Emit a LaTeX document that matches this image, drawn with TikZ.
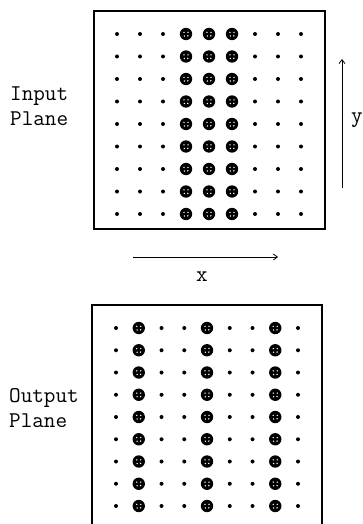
\documentclass[tikz,border=0pt]{standalone}
\usepackage{fontspec}
\usetikzlibrary{arrows.meta}
\begin{document}
\begin{tikzpicture}[x=1pt,y=-1pt,
  planebox/.style={line width=1.2pt},
  lbl/.style={font=\ttfamily\fontsize{22.5}{25.5}\selectfont, inner sep=0pt, align=left},
  axislbl/.style={font=\ttfamily\fontsize{22.5}{25.5}\selectfont, inner sep=0pt},
  axisarrow/.style={line width=0.8pt, -{Straight Barb[length=4pt,width=6pt]}},
  smalldot/.style={fill=black},
  bigdot/.style={fill=black}
]
\useasboundingbox (0,0) rectangle (363,524);
% input plane box
\draw[planebox] (94,11) rectangle (325,229);
% output plane box (open at the bottom)
\draw[planebox] (92,524) -- (92,305) -- (322,305) -- (322,524);

% input dots
\foreach \i in {0,...,8} {
  \foreach \j in {0,...,8} {
    \pgfmathsetmacro{\px}{117+23*\i}
    \pgfmathsetmacro{\py}{34+22.5*\j}
    \ifnum\i>2 \ifnum\i<6
      \fill[bigdot] (\px,\py) circle (6.2);
      \fill[white] (\px-2,\py-1.6) circle (0.8) (\px+2,\py-1.6) circle (0.8)
                   (\px-1.6,\py+2) circle (0.8) (\px+1.8,\py+1.8) circle (0.8);
    \else
      \fill[smalldot] (\px,\py) circle (2);
    \fi
    \else
      \fill[smalldot] (\px,\py) circle (2);
    \fi
  }
}
% output dots
\foreach \i in {0,...,8} {
  \foreach \j in {0,...,8} {
    \pgfmathsetmacro{\px}{116+22.75*\i}
    \pgfmathsetmacro{\py}{328+22.25*\j}
    \pgfmathtruncatemacro{\m}{mod(\i,3)}
    \ifnum\m=1
      \fill[bigdot] (\px,\py) circle (6.2);
      \fill[white] (\px-2,\py-1.6) circle (0.8) (\px+2,\py-1.6) circle (0.8)
                   (\px-1.6,\py+2) circle (0.8) (\px+1.8,\py+1.8) circle (0.8);
    \else
      \fill[smalldot] (\px,\py) circle (2);
    \fi
  }
}

% labels
\node[lbl, anchor=west] (inlabel) at (10,106) {Input\\Plane};
\node[lbl, anchor=west] (outlabel) at (9,408) {Output\\Plane};

% axes
\coordinate (xs) at (133,257);
\coordinate (xe) at (278,257);
\draw[axisarrow] (xs) -- (xe);
\node[axislbl] (xlabel) at (202,277) {x};
\coordinate (ys) at (342,188);
\coordinate (ye) at (342,59);
\draw[axisarrow] (ys) -- (ye);
\node[axislbl] (ylabel) at (357,120) {y};
\end{tikzpicture}
\end{document}
